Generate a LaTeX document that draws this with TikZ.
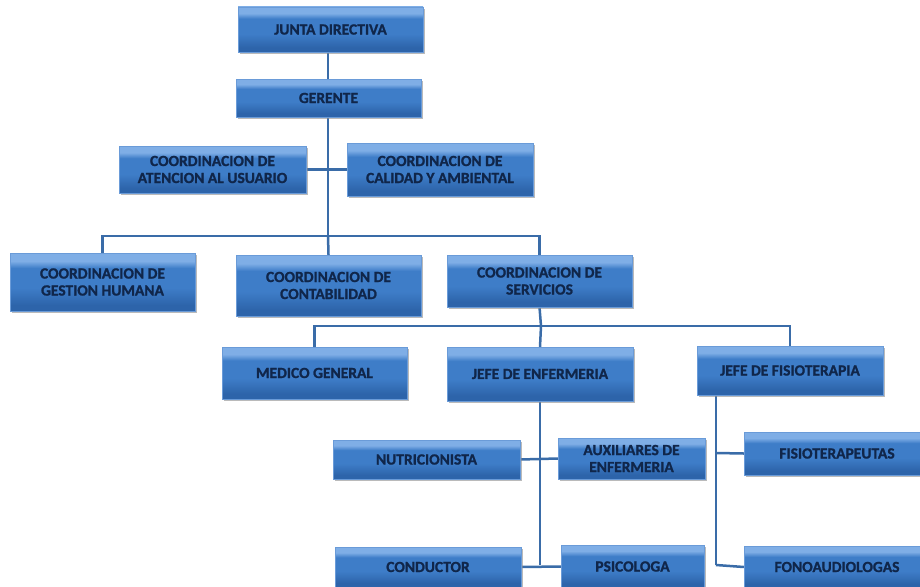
\documentclass[tikz,border=0pt]{standalone}
\usepackage{fontspec}
\setmainfont{Carlito}[BoldFeatures={FakeBold=1.2}]
\usetikzlibrary{shadows}
\definecolor{btop}{HTML}{7FAEE6}
\definecolor{bmid}{HTML}{3E7DC8}
\definecolor{bbot}{HTML}{2D64AA}
\definecolor{bedge}{HTML}{6A9BD8}
\definecolor{btext}{HTML}{10264A}
\definecolor{lnk}{HTML}{3A6CA8}
\pgfdeclareverticalshading{boxshade}{100bp}{color(0bp)=(bbot); color(30bp)=(bbot); color(45bp)=(bmid); color(62bp)=(bmid); color(68bp)=(btop); color(100bp)=(btop)}
\tikzset{
  orgbox/.style={draw=bedge, line width=0.6pt, shading=boxshade,
    drop shadow={shadow xshift=2pt, shadow yshift=-2pt, fill=black!45, opacity=0.6},
    text=btext, font=\bfseries\fontsize{15.5}{17}\selectfont, align=center, inner sep=0pt},
  anch/.style={inner sep=0pt},
  link/.style={draw=lnk, line width=2.5pt}
}
\begin{document}
\begin{tikzpicture}[x=1pt,y=-1pt]
\clip (0,0) rectangle (920,586);
\fill[white] (0,0) rectangle (920,586);
% junction coordinates
\coordinate (b1) at (328,236);
\coordinate (b2) at (541,326);
\coordinate (e2) at (540,565);
\coordinate (f1) at (716,453);
\coordinate (f2) at (716,565);
% invisible placeholders for box outlines
\path
  node[anch, minimum width=185pt, minimum height=45pt] (jd) at (330.5,29.5) {}
  node[anch, minimum width=185pt, minimum height=38pt] (ge) at (328.5,98) {}
  node[anch, minimum width=187pt, minimum height=47pt] (at) at (212.5,169.5) {}
  node[anch, minimum width=186pt, minimum height=53pt] (ca) at (440,169.5) {}
  node[anch, minimum width=185pt, minimum height=58pt] (gh) at (102.5,282) {}
  node[anch, minimum width=185pt, minimum height=61pt] (co) at (328.5,285.5) {}
  node[anch, minimum width=185pt, minimum height=52pt] (se) at (539.5,281) {}
  node[anch, minimum width=185pt, minimum height=52pt] (mg) at (314.5,373) {}
  node[anch, minimum width=186pt, minimum height=54pt] (je) at (540,374) {}
  node[anch, minimum width=186pt, minimum height=49pt] (jf) at (790,370.5) {}
  node[anch, minimum width=187pt, minimum height=39pt] (nu) at (426.5,459.5) {}
  node[anch, minimum width=147pt, minimum height=41pt] (au) at (631.5,458.5) {}
  node[anch, minimum width=186pt, minimum height=40pt] (cd) at (428,567) {}
  node[anch, minimum width=143pt, minimum height=43pt] (ps) at (632.5,566.5) {}
  node[anch, minimum width=186pt, minimum height=43pt] (ft) at (837,453.5) {}
  node[anch, minimum width=186pt, minimum height=42pt] (fo) at (837,567) {};
% connectors
\draw[link] (jd.south -| b1) -- (b1);
\draw[link] (at.east) -- (ca.west);
\draw[link] (gh.north) |- (b1) -| (se.north);
\draw[link] (b1) -- (co.north);
\draw[link] (se.south) -- (b2);
\draw[link] (mg.north) |- (b2) -| (jf.north);
\draw[link] (b2) -- (je.north);
\draw[link] (je.south) -- (e2);
\draw[link] (nu.east) -- (au.west);
\draw[link] (cd.east) -- (ps.west);
\draw[link] (jf.south -| f1) -- (f2);
\draw[link] (f1) -- (ft.west);
\draw[link] (f2) -- (fo.west);
% visible boxes
\node[orgbox, minimum width=185pt, minimum height=45pt] at (jd) {JUNTA DIRECTIVA};
\node[orgbox, minimum width=185pt, minimum height=38pt] at (ge) {GERENTE};
\node[orgbox, minimum width=187pt, minimum height=47pt] at (at) {COORDINACION DE\\ATENCION AL USUARIO};
\node[orgbox, minimum width=186pt, minimum height=53pt] at (ca) {COORDINACION DE\\CALIDAD Y AMBIENTAL};
\node[orgbox, minimum width=185pt, minimum height=58pt] at (gh) {COORDINACION DE\\GESTION HUMANA};
\node[orgbox, minimum width=185pt, minimum height=61pt] at (co) {COORDINACION DE\\CONTABILIDAD};
\node[orgbox, minimum width=185pt, minimum height=52pt] at (se) {COORDINACION DE\\SERVICIOS};
\node[orgbox, minimum width=185pt, minimum height=52pt] at (mg) {MEDICO GENERAL};
\node[orgbox, minimum width=186pt, minimum height=54pt] at (je) {JEFE DE ENFERMERIA};
\node[orgbox, minimum width=186pt, minimum height=49pt] at (jf) {JEFE DE FISIOTERAPIA};
\node[orgbox, minimum width=187pt, minimum height=39pt] at (nu) {NUTRICIONISTA};
\node[orgbox, minimum width=147pt, minimum height=41pt] at (au) {AUXILIARES DE\\ENFERMERIA};
\node[orgbox, minimum width=186pt, minimum height=40pt] at (cd) {CONDUCTOR};
\node[orgbox, minimum width=143pt, minimum height=43pt] at (ps) {PSICOLOGA};
\node[orgbox, minimum width=186pt, minimum height=43pt] at (ft) {FISIOTERAPEUTAS};
\node[orgbox, minimum width=186pt, minimum height=42pt] at (fo) {FONOAUDIOLOGAS};
\end{tikzpicture}
\end{document}
